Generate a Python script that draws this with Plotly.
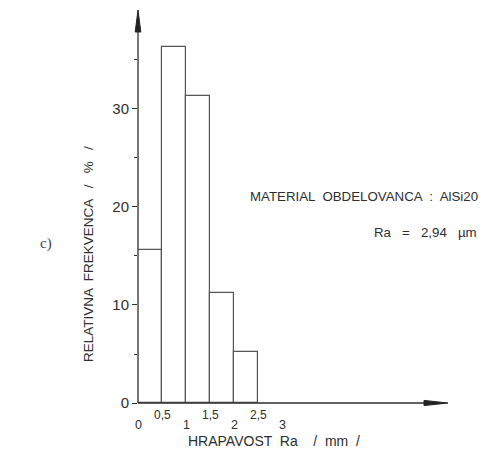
import plotly.graph_objects as go

# Data
bin_left = [0.0, 0.5, 1.0, 1.5, 2.0]
bin_width = 0.5
freq = [15.6, 36.3, 31.3, 11.2, 5.2]
x_ticks_upper = [0.5, 1.5, 2.5]
x_ticks_upper_text = ["0,5", "1,5", "2,5"]
x_ticks_lower = [0, 1, 2, 3]
x_ticks_lower_text = ["0", "1", "2", "3"]
y_ticks = [0, 10, 20, 30]
y_minor = [5, 15, 25, 35]

OFF = 8  # page body margin
W, H = 470, 442
# plot area in page pixels
L, R, T, B = 138, 450, 9, 403
XMAX = 6.5
YMAX = 40.2

def paper_x(px):
    return (px - L) / (R - L)

def paper_y(py):
    return (B - py) / (B - T)

INK = "#2e2e2e"
FONT = "Liberation Sans, Arial, sans-serif"

centers = [b + bin_width / 2 for b in bin_left]

fig = go.Figure()
fig.add_trace(go.Bar(
    x=centers, y=freq, width=bin_width,
    marker=dict(color="white", line=dict(color="#555555", width=1.2)),
    hoverinfo="skip",
))

shapes = []
ax0x, ax0y = paper_x(L), paper_y(B)
# axis lines
shapes.append(dict(type="line", xref="paper", yref="paper", x0=ax0x, y0=ax0y, x1=paper_x(440), y1=ax0y,
                   line=dict(color=INK, width=1.3)))
shapes.append(dict(type="line", xref="paper", yref="paper", x0=ax0x, y0=ax0y, x1=ax0x, y1=paper_y(18),
                   line=dict(color=INK, width=1.3)))
# arrowheads (narrow, filled)
hw = 2.8 / (R - L)
shapes.append(dict(type="path", xref="paper", yref="paper",
                   path=f"M {ax0x - hw} {paper_y(32)} L {ax0x + hw} {paper_y(32)} L {ax0x} {paper_y(10)} Z",
                   fillcolor="#222", line=dict(color="#222", width=1)))
hh = 2.6 / (B - T)
shapes.append(dict(type="path", xref="paper", yref="paper",
                   path=f"M {paper_x(424)} {ax0y - hh} L {paper_x(424)} {ax0y + hh} L {paper_x(448)} {ax0y} Z",
                   fillcolor="#222", line=dict(color="#222", width=1)))

annotations = []
for v, t in zip(x_ticks_upper, x_ticks_upper_text):
    annotations.append(dict(x=v, y=0, xref="x", yref="y", text=t, showarrow=False,
                            xanchor="center", yanchor="top", yshift=-3,
                            font=dict(size=12, color=INK, family=FONT)))
for v, t in zip(x_ticks_lower, x_ticks_lower_text):
    annotations.append(dict(x=v, y=0, xref="x", yref="y", text=t, showarrow=False,
                            xanchor="center", yanchor="top", yshift=-13,
                            font=dict(size=12.5, color=INK, family=FONT)))

def txt(px, py, text, size, angle=0, family=FONT, color=INK):
    return dict(x=paper_x(px), y=paper_y(py), xref="paper", yref="paper",
                text=text, showarrow=False, xanchor="center", yanchor="middle",
                textangle=angle, font=dict(size=size, color=color, family=family))

annotations.append(txt(274, 441, "HRAPAVOST  Ra    /  mm  /", 14))
annotations.append(txt(89, 254, "RELATIVNA  FREKVENCA   /   %   /", 13.5, angle=-90))
annotations.append(txt(364, 196, "MATERIAL  OBDELOVANCA  :  AlSi20", 13.3))
annotations.append(txt(425, 233, "Ra   =   2,94   µm", 13.3))
annotations.append(txt(46, 244, "c)", 15, family="Liberation Serif, Times New Roman, serif", color="#444"))

fig.update_layout(
    width=W, height=H,
    margin=dict(l=L - OFF, r=W - (R - OFF), t=T - OFF, b=H - (B - OFF), pad=0),
    paper_bgcolor="white", plot_bgcolor="white",
    showlegend=False,
    xaxis=dict(range=[0, XMAX], showgrid=False, zeroline=False, showline=False,
               showticklabels=False, ticks="", fixedrange=True),
    yaxis=dict(range=[0, YMAX], showgrid=False, zeroline=False, showline=False,
               tickvals=y_ticks, ticktext=[str(v) for v in y_ticks],
               ticks="outside", ticklen=5, tickwidth=1.2, tickcolor=INK,
               tickfont=dict(size=15, color=INK, family=FONT),
               minor=dict(tickvals=y_minor, ticks="outside", ticklen=3, tickwidth=1, tickcolor=INK),
               fixedrange=True),
    shapes=shapes,
    annotations=annotations,
    bargap=0,
)

fig.write_html("out.html")
